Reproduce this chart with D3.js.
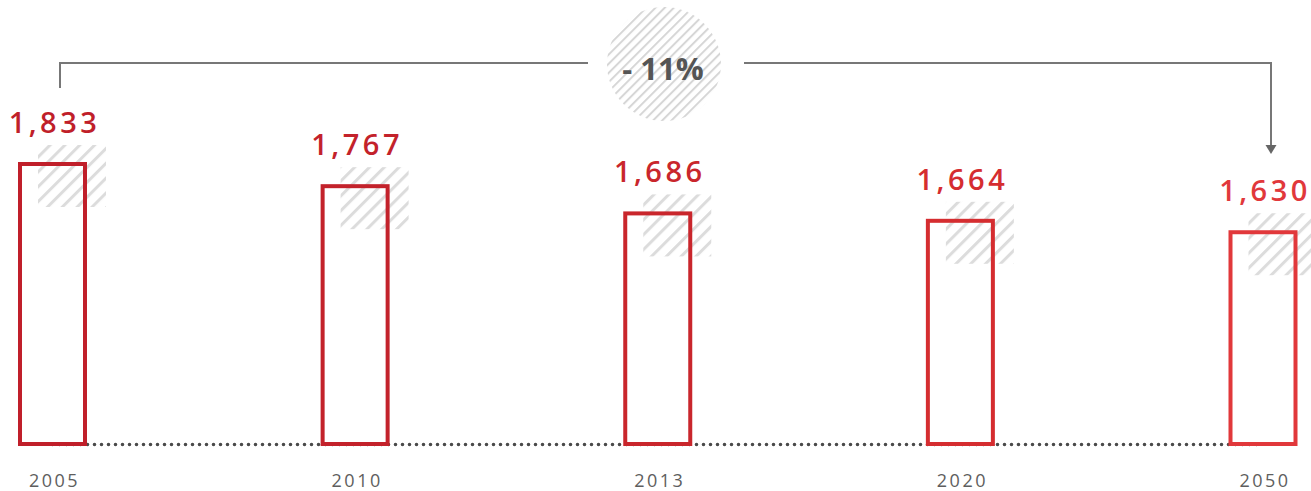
<!DOCTYPE html>
<html>
<head>
<meta charset="utf-8">
<script src="https://cdn.jsdelivr.net/npm/d3@7"></script>
<style>
  html, body { margin: 0; padding: 0; background: #fff; }
  svg { display: block; }
</style>
</head>
<body>
<svg id="chart" width="1311" height="491"></svg>
<script>
// Annual values per year
const years = ["2005", "2010", "2013", "2020", "2050"];
const values = [1833, 1767, 1686, 1664, 1630];
const valueLabels = ["1,833", "1,767", "1,686", "1,664", "1,630"];
const changeLabel = "- 11%";

// Bar outline colours, deepening from the latest to the earliest year
const barColors = ["#c01f2a", "#c3222b", "#c9262c", "#d52d30", "#e1383b"];

const W = 1311, H = 491;
const baseY = 444;

const svg = d3.select("#chart");
const defs = svg.append("defs");

// Diagonal hatching used behind the bars
defs.append("pattern")
  .attr("id", "hatch")
  .attr("patternUnits", "userSpaceOnUse")
  .attr("width", 10.5).attr("height", 10.5)
  .attr("patternTransform", "rotate(45)")
  .append("rect")
  .attr("x", 0).attr("y", 0).attr("width", 3).attr("height", 10.5)
  .attr("fill", "#dcdcdc");

// Finer hatching for the change badge
defs.append("pattern")
  .attr("id", "hatchFine")
  .attr("patternUnits", "userSpaceOnUse")
  .attr("width", 6.5).attr("height", 6.5)
  .attr("patternTransform", "rotate(45)")
  .append("rect")
  .attr("x", 0).attr("y", 0).attr("width", 2).attr("height", 6.5)
  .attr("fill", "#d6d6d6");

defs.append("filter").attr("id", "soft")
  .append("feGaussianBlur").attr("stdDeviation", 0.6);

const x = d3.scalePoint()
  .domain(years)
  .range([52.5, 1263]);

const y = d3.scaleLinear()
  .domain([1000, 1833])
  .range([baseY, 164]);

const barW = 65;

const data = years.map((yr, i) => ({ year: yr, value: values[i], label: valueLabels[i], color: barColors[i] }));

// Dotted baseline
svg.append("line")
  .attr("x1", x(years[0])).attr("x2", x(years[years.length - 1]))
  .attr("y1", baseY + 0.5).attr("y2", baseY + 0.5)
  .attr("stroke", "#4a4a4a")
  .attr("stroke-width", 3.6)
  .attr("stroke-linecap", "round")
  .attr("stroke-dasharray", "0 7");

// Hatched shadows offset up and to the right of each bar
svg.append("g").attr("filter", "url(#soft)")
  .selectAll("rect")
  .data(data)
  .join("rect")
  .attr("x", d => x(d.year) - 14.5)
  .attr("y", d => y(d.value) - 19)
  .attr("width", 68)
  .attr("height", 62)
  .attr("fill", "url(#hatch)");

// Bars (outlined)
const bars = svg.append("g");
bars.selectAll("rect")
  .data(data)
  .join("rect")
  .attr("x", d => x(d.year) - barW / 2)
  .attr("y", d => y(d.value))
  .attr("width", barW)
  .attr("height", d => baseY - y(d.value))
  .attr("fill", "none")
  .attr("stroke", d => d.color)
  .attr("stroke-width", 4);

// Value labels
svg.append("g")
  .selectAll("text")
  .data(data)
  .join("text")
  .attr("x", d => x(d.year) + 2)
  .attr("y", d => y(d.value) - 31)
  .attr("text-anchor", "middle")
  .attr("font-family", "'Open Sans', sans-serif")
  .attr("font-weight", 600)
  .attr("font-size", 29)
  .attr("letter-spacing", 3.5)
  .attr("fill", d => d.color)
  .text(d => d.label);

// Year axis labels
const axis = d3.axisBottom(x).tickSize(0).tickPadding(0);
const axisG = svg.append("g")
  .attr("transform", `translate(0, ${baseY + 30})`)
  .call(axis);
axisG.select(".domain").remove();
axisG.selectAll("text")
  .attr("dy", "0.71em")
  .attr("dx", 1.5)
  .attr("font-family", "'Open Sans', sans-serif")
  .attr("font-size", 18)
  .attr("letter-spacing", 2.5)
  .attr("fill", "#5e5e5e");

// Bracket showing the change from the first to the last year
const bracketY = 63;
const cx = 664, cy = 64, r = 57;
const firstX = x(years[0]) + 7.5;
const lastX = x(years[years.length - 1]) + 8;
const line = d3.line();
const bracket = svg.append("g")
  .attr("fill", "none")
  .attr("stroke", "#777")
  .attr("stroke-width", 2);
bracket.append("path")
  .attr("d", line([[firstX, y(values[0]) - 76], [firstX, bracketY], [cx - r - 19, bracketY]]));
bracket.append("path")
  .attr("d", line([[cx + r + 23, bracketY], [lastX, bracketY], [lastX, 146]]));
svg.append("path")
  .attr("d", line([[lastX - 5.5, 145], [lastX + 5.5, 145], [lastX, 154]]) + "Z")
  .attr("fill", "#666");

// Change badge
svg.append("circle")
  .attr("cx", cx).attr("cy", cy).attr("r", r)
  .attr("fill", "url(#hatchFine)")
  .attr("filter", "url(#soft)");
svg.append("text")
  .attr("x", cx - 1)
  .attr("y", cy + 16)
  .attr("text-anchor", "middle")
  .attr("font-family", "'Open Sans', sans-serif")
  .attr("font-weight", 700)
  .attr("font-size", 31)
  .attr("fill", "#555")
  .text(changeLabel);
</script>
</body>
</html>
